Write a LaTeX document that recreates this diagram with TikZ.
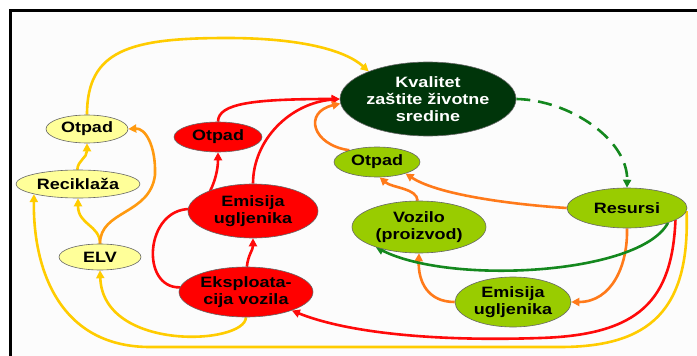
\documentclass[tikz,border=0pt]{standalone}
\usepackage{fontspec}
\newfontfamily\nf[FakeStretch=1.2]{Liberation Sans}
\usetikzlibrary{shapes.geometric,arrows.meta,backgrounds}
\definecolor{ynode}{HTML}{FFFF99}
\definecolor{gnode}{HTML}{99CC00}
\definecolor{dnode}{HTML}{00350A}
\definecolor{rnode}{HTML}{FF0000}
\definecolor{ycol}{HTML}{FFCC00}
\definecolor{ocolA}{HTML}{FF9A10}
\definecolor{ocolB}{HTML}{FF7A1A}
\definecolor{rcol}{HTML}{FF0A0A}
\definecolor{gcol}{HTML}{14881E}
\begin{document}
\begin{tikzpicture}[x=1pt,y=-1pt,
  nd/.style={ellipse,draw=black!60,line width=0.6pt,inner sep=0pt,align=center,
    font=\nf\bfseries\fontsize{15}{17}\selectfont},
  yel/.style={nd,fill=ynode},
  grn/.style={nd,fill=gnode},
  red/.style={nd,fill=rnode},
  dark/.style={nd,fill=dnode,text=white},
  ar/.style={line width=2.6pt,-{Triangle[length=8pt,width=8pt]}},
]
\useasboundingbox (0,0) rectangle (697,356);
\clip (0,0) rectangle (697,356);
\begin{scope}[on background layer]
  \fill[white] (0,0) rectangle (697,356);
  \fill[black!1] (10.5,10.5) rectangle (700,360);
  \draw[line width=2.5pt] (700,10.5) -- (10.5,10.5) -- (10.5,360);
\end{scope}

% nodes
\node[dark,minimum width=176pt,minimum height=74pt] (kv) at (428,99) {Kvalitet\\zaštite životne\\sredine};
\node[yel,minimum width=82pt,minimum height=28pt] (yo) at (87,129) {Otpad};
\node[yel,minimum width=124pt,minimum height=28pt] (rec) at (78,184) {Reciklaža};
\node[yel,minimum width=82pt,minimum height=26pt] (elv) at (100,257) {ELV};
\node[red,minimum width=88pt,minimum height=30pt] (ro) at (218,137) {Otpad};
\node[red,minimum width=130pt,minimum height=54pt] (rem) at (253,211) {Emisija\\ugljenika};
\node[red,minimum width=134pt,minimum height=50pt] (eks) at (246,292) {Eksploata-\\cija vozila};
\node[grn,minimum width=86pt,minimum height=30pt] (go) at (377,162) {Otpad};
\node[grn,minimum width=134pt,minimum height=52pt] (voz) at (419,227) {Vozilo\\(proizvod)};
\node[grn,minimum width=120pt,minimum height=40pt] (res) at (627,208) {Resursi};
\node[grn,minimum width=116pt,minimum height=50pt] (gem) at (513,302) {Emisija\\ugljenika};

\begin{scope}[on background layer]
  % yellow
  \draw[ar,ycol] (yo.north) .. controls (87,50) and (130,38) .. (227,38)
     .. controls (300,38) and (345,50) .. (kv.155);
  \draw[ar,ycol] (rec.93) .. controls (78,160) and (87,158) .. (yo.south);
  \draw[ar,ycol] (elv.north) .. controls (100,225) and (78,225) .. (rec.south);
  \draw[ar,ycol] (eks.south) .. controls (245,345) and (103,352) .. (elv.south);
  \draw[ar,ycol] (res.-3) .. controls (690,310) and (650,347) .. (560,347) -- (150,347)
     .. controls (60,347) and (33,270) .. (rec.south west);
  % light orange
  \draw[ar,ocolA] (elv.north) .. controls (100,210) and (150,215) .. (155,175)
     .. controls (156,145) and (145,128) .. (yo.east);
  % red
  \draw[ar,rcol] (res.-14) .. controls (672,300) and (640,335) .. (540,338)
     .. controls (420,342) and (340,330) .. (eks.-22);
  \draw[ar,rcol] (eks.176) .. controls (140,288) and (145,209) .. (190,209)
     .. controls (205,209) and (218,180) .. (ro.south);
  \draw[ar,rcol] (ro.north) .. controls (218,103) and (255,99) .. (kv.west);
  \draw[ar,rcol] (rem.north) .. controls (253,140) and (290,103) .. (kv.west);
  \draw[ar,rcol] (eks.88) .. controls (248,255) and (253,250) .. (rem.south);
  % dark orange
  \draw[ar,ocolB] (go.157) .. controls (312,145) and (303,112) .. (kv.183);
  \draw[ar,ocolB] (voz.93) .. controls (417,188) and (392,188) .. (go.-80);
  \draw[ar,ocolB] (res.west) .. controls (520,205) and (440,196) .. (go.-22);
  \draw[ar,ocolB] (res.south) .. controls (628,265) and (612,302) .. (gem.east);
  \draw[ar,ocolB] (gem.west) .. controls (428,302) and (418,282) .. (voz.south);
  % green
  \draw[ar,gcol] (res.-20) .. controls (640,275) and (450,285) .. (voz.-155);
  \draw[ar,gcol,dash pattern=on 14pt off 8pt] (kv.east) .. controls (570,100) and (628,140) .. (res.north);
\end{scope}
\end{tikzpicture}
\end{document}
